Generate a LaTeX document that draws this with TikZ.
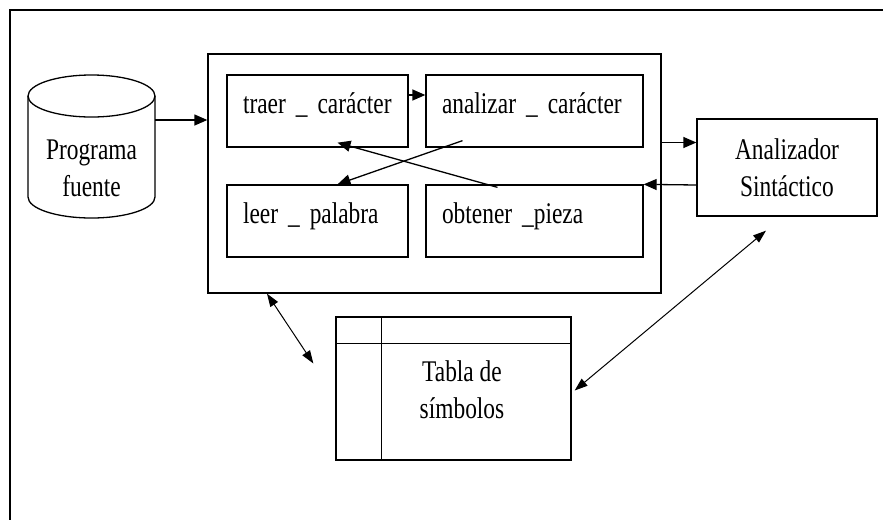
\documentclass[tikz,border=0pt]{standalone}
\usepackage{fontspec}
\setmainfont{Liberation Serif}[FakeStretch=0.78]
\usetikzlibrary{arrows.meta,positioning,calc}

\begin{document}
\begin{tikzpicture}[x=1pt,y=-1pt,
  every node/.style={font=\fontsize{30}{37}\selectfont},
  linea/.style={line width=1.3pt},
  caja/.style={draw,linea,minimum height=72pt,inner xsep=16pt,align=left,
    text height=18pt,text depth=14pt},
  flecha/.style={linea,-{Triangle[length=13pt,width=11pt]}},
  doble/.style={line width=1pt,{Triangle[length=13pt,width=9pt]}-{Triangle[length=13pt,width=9pt]}}]

  \useasboundingbox (0,0) rectangle (883,520);

  % outer frame
  \draw[line width=2pt] (883,9.5) -- (9.5,9.5) -- (9.5,520);

  % programa fuente (disk)
  \draw[linea] (28,96) -- (28,197) arc[start angle=180,end angle=360,x radius=63.5pt,y radius=21pt] -- (155,96);
  \draw[linea] (91.5,96) ellipse [x radius=63.5pt,y radius=21pt];
  \node (fuente) at (91.5,168) [align=center] {Programa\\fuente};
  \coordinate (fuente-r) at (155,120);

  % analizador lexico
  \node (lexico) at (434.5,173.5) [draw,linea,minimum width=453pt,minimum height=239pt] {};

  % its four routines
  \foreach \nom/\cx/\cy/\w/\tw/\txt in {traer/317.5/111/181/149/traer \_ carácter,
      analiza/534.5/111/217/185/analizar \_ carácter,
      leer/317.5/221/181/149/leer \_ palabra,
      obtener/534.5/221/217/185/obtener \_pieza} {
    \node (\nom) at (\cx,\cy) [caja,minimum width=\w pt,text width=\tw pt] {\txt};
  }

  \node (sint) at (787,167.5) [draw,linea,minimum width=180pt,minimum height=97pt,align=center] {Analizador\\Sintáctico};

  % tabla de simbolos
  \node (tabla) at (453.5,388.5) [draw,linea,minimum width=235pt,minimum height=143pt] {};
  \draw[linea] ([yshift=-27pt]tabla.north west) -- ([yshift=-27pt]tabla.north east);
  \draw[linea] ([xshift=46pt]tabla.north west) -- ([xshift=46pt]tabla.south west);
  \node (tabla-txt) at (462,390) [align=center] {Tabla de\\símbolos};

  % connectors
  \draw[flecha] (fuente-r) -- (fuente-r -| lexico.west);
  \draw[flecha] ([yshift=16pt]traer.east) -- ([yshift=16pt]analiza.west);
  \draw[flecha] ([shift={(-72pt,7pt)}]analiza.south) -- ([xshift=20pt]leer.north);
  \draw[flecha] ([shift={(-37pt,-3pt)}]obtener.north) -- ([shift={(20pt,5pt)}]traer.south);
  \draw[flecha] ([yshift=25pt]sint.west -| lexico.east) -- ([yshift=25pt]sint.west);
  \draw[flecha] ([yshift=-17.5pt]sint.west) -- (obtener.north east);
  \draw[doble] ([xshift=-167.5pt]lexico.south) -- ([shift={(-22pt,25pt)}]tabla.west);
  \draw[doble] ([shift={(-21pt,-14pt)}]sint.south) -- ([shift={(3pt,-2pt)}]tabla.east);

\end{tikzpicture}
\end{document}
